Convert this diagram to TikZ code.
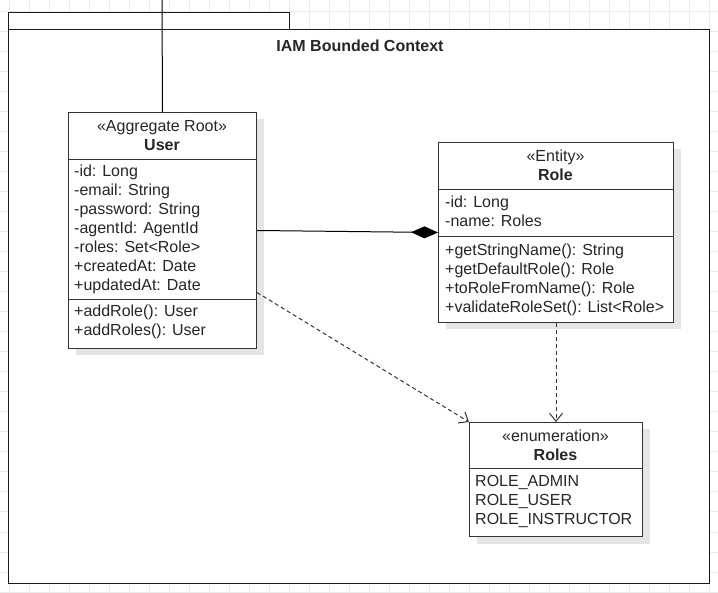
\documentclass[tikz,border=0pt]{standalone}
\usepackage{fontspec}
\setmainfont{Liberation Sans}
\usetikzlibrary{arrows.meta,shadows}

\tikzset{
  gridline/.style={draw=black!8, line width=1pt},
  classbox/.style={draw=black!80, fill=white, line width=1pt, anchor=north west, inner sep=0pt,
    drop shadow={shadow xshift=7pt, shadow yshift=-7pt, opacity=0.10, fill=black}},
  framebox/.style={draw=black!90, fill=white, line width=1pt, anchor=north west, inner sep=0pt},
  classhead/.style={anchor=north, align=center, inner sep=0pt, text=black!85,
    font=\fontsize{16}{19}\selectfont},
  members/.style={anchor=north west, align=left, inner sep=0pt, text=black!85,
    font=\fontsize{16}{19}\selectfont},
  sepline/.style={draw=black!80, line width=1pt},
  comp/.style={draw=black, line width=1pt, -{Diamond[length=27pt,width=12pt]}},
  dep/.style={draw=black!80, line width=1pt, dash pattern=on 4pt off 3pt,
    -{Straight Barb[length=8pt,width=13pt]}},
  assoc/.style={draw=black, line width=1pt}
}

\begin{document}
\begin{tikzpicture}[x=1pt, y=-1pt]

	\useasboundingbox (0,0) rectangle (718,593);
	\fill[white] (0,0) rectangle (718,593);
	% canvas grid
	\foreach \gx in {9,29,...,709} \draw[gridline] (\gx,0) -- (\gx,593);
	\foreach \gy in {12,32,...,592} \draw[gridline] (0,\gy) -- (718,\gy);

	% bounded context frame
	\node[framebox, minimum width=281pt, minimum height=17pt] (tab) at (8,12) {};
	\node[framebox, minimum width=701pt, minimum height=554pt] (context) at (8,29) {};
	\node[font=\fontsize{16}{19}\selectfont\bfseries, text=black!85] (title) at (360,46) {IAM Bounded Context};

	% User
	\node[classbox, minimum width=188pt, minimum height=236pt] (user) at (68,112) {};
	\node[classhead] (userhead) at (162,120) {«Aggregate Root»\\\textbf{User}};
	\draw[sepline] (68,160) -- (256,160);
	\node[members] (userattr) at (74,165) {-id: Long\\-email: String\\-password: String\\-agentId: AgentId\\-roles: Set<Role>\\+createdAt: Date\\+updatedAt: Date};
	\draw[sepline] (68,300) -- (256,300);
	\node[members] (userops) at (74,305) {+addRole(): User\\+addRoles(): User};

	% Role
	\node[classbox, minimum width=235pt, minimum height=180pt] (role) at (438,142) {};
	\node[classhead] (rolehead) at (555.5,150) {«Entity»\\\textbf{Role}};
	\draw[sepline] (438,190) -- (673,190);
	\node[members] (roleattr) at (445,196) {-id: Long\\-name: Roles};
	\draw[sepline] (438,237) -- (673,237);
	\node[members] (roleops) at (445,244) {+getStringName(): String\\+getDefaultRole(): Role\\+toRoleFromName(): Role\\+validateRoleSet(): List<Role>};

	% Roles
	\node[classbox, minimum width=173pt, minimum height=114pt] (roles) at (469,422) {};
	\node[classhead] (roleshead) at (555.5,430) {«enumeration»\\\textbf{Roles}};
	\draw[sepline] (469,469) -- (642,469);
	\node[members] (rolesvals) at (475,475) {ROLE\_ADMIN\\ROLE\_USER\\ROLE\_INSTRUCTOR};

	% connectors
	\coordinate (topend) at (162,0);
	\draw[assoc] (topend) -- (user.north);
	\draw[comp] (user.east) -- (role.west);
	\draw[dep] ([yshift=-62pt]user.east) -- (roles.north west);
	\draw[dep] (role.south) -- (roles.north);

\end{tikzpicture}
\end{document}
